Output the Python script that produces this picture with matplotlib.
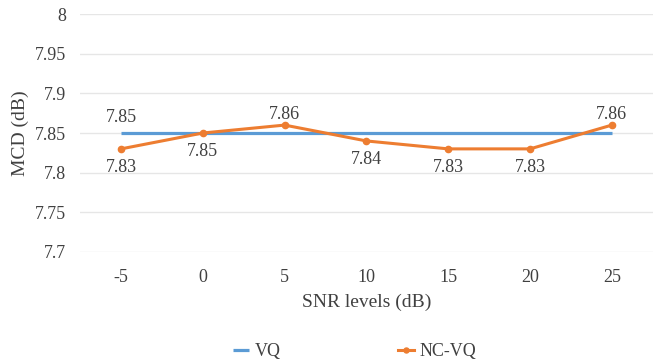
import matplotlib
import matplotlib.pyplot as plt

matplotlib.use("Agg")

# Chart data
snr_levels = ["-5", "0", "5", "10", "15", "20", "25"]
vq_mcd = [7.85, 7.85, 7.85, 7.85, 7.85, 7.85, 7.85]
ncvq_mcd = [7.83, 7.85, 7.86, 7.84, 7.83, 7.83, 7.86]
# which side of the point each NC-VQ label sits on (+1 above, -1 below)
ncvq_label_side = [-1, -1, 1, -1, -1, -1, 1]

BLUE = "#5B9BD5"
ORANGE = "#ED7D31"
TEXT = "#404040"
GRID = "#E6E6E6"

plt.rcParams["font.family"] = ["Liberation Serif", "DejaVu Serif"]

fig = plt.figure(figsize=(6.62, 3.6), dpi=100)
ax = fig.add_axes([0.121, 0.30, 0.865, 0.661])

x = list(range(len(snr_levels)))
ax.plot(x, vq_mcd, color=BLUE, linewidth=2.3, label="VQ", solid_capstyle="butt")
ax.plot(x, ncvq_mcd, color=ORANGE, linewidth=2.2, marker="o", markersize=4.5,
        label="NC-VQ")

# VQ is only labelled on the first point
ax.annotate(f"{vq_mcd[0]:.2f}", (x[0], vq_mcd[0]), xytext=(0, 11),
            textcoords="offset points", ha="center", va="center",
            fontsize=13, color=TEXT)
for xi, yi, side in zip(x, ncvq_mcd, ncvq_label_side):
    dy = 7.5 if side > 0 else -13.5
    ax.annotate(f"{yi:.2f}", (xi, yi), xytext=(0, dy),
                textcoords="offset points", ha="center", va="center",
                fontsize=13, color=TEXT)

ax.set_xlim(-0.5, len(snr_levels) - 0.5)
ax.set_ylim(7.7, 8.0)
ax.set_yticks([7.7, 7.75, 7.8, 7.85, 7.9, 7.95, 8.0])
ax.set_yticklabels(["7.7", "7.75", "7.8", "7.85", "7.9", "7.95", "8"])
ax.set_xticks(x)
ax.set_xticklabels(snr_levels)
ax.tick_params(length=0, labelsize=13, labelcolor=TEXT, pad=12)
ax.tick_params(axis="y", pad=10)
ax.grid(axis="y", color=GRID, linewidth=1)
ax.set_axisbelow(True)
for s in ax.spines.values():
    s.set_visible(False)

ax.set_xlabel("SNR levels (dB)", fontsize=14, color=TEXT, labelpad=6)
ax.set_ylabel("MCD (dB)", fontsize=14, color=TEXT, labelpad=4)

fig.legend(loc="lower center", bbox_to_anchor=(0.536, -0.045), ncol=2,
           frameon=False, fontsize=13, labelcolor=TEXT, handlelength=0.9,
           handletextpad=0.3, columnspacing=6.5, markerscale=0.8)

fig.savefig("out.png", dpi=100)
